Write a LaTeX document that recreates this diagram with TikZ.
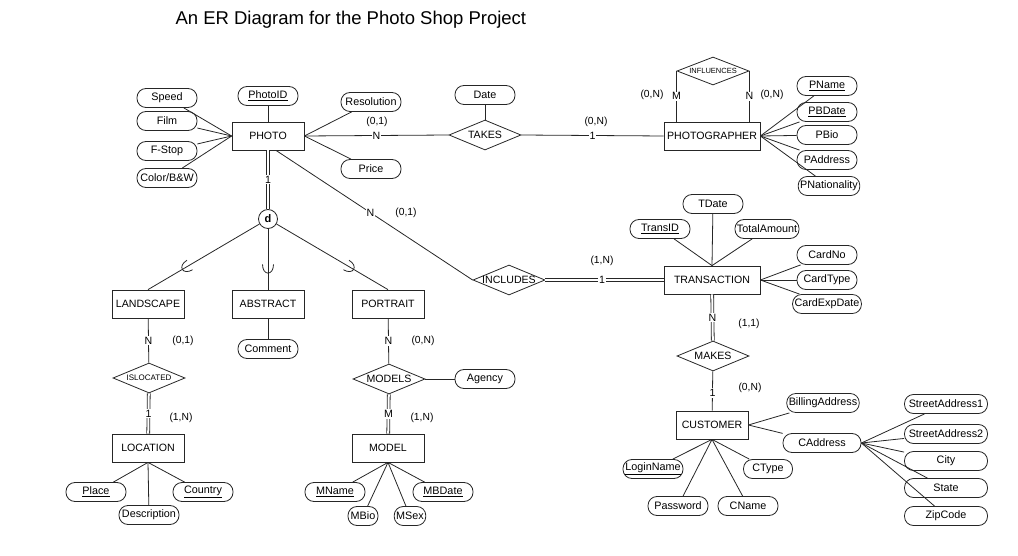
\documentclass[tikz,border=0pt]{standalone}
\usepackage{fontspec}
\setmainfont{Liberation Sans}
\usetikzlibrary{shapes.geometric, calc, decorations.markings}
\newcommand{\relname}[1]{\makebox[0pt]{#1}}

\begin{document}
\begin{tikzpicture}[
        x=1pt, y=-1pt,
        entity/.style={rectangle, draw=black!85, line width=0.8pt, minimum width=72, minimum height=28,
                       inner sep=3pt, font=\fontsize{10.6}{12}\selectfont},
        attr/.style={rectangle, rounded corners=9pt, draw=black!85, line width=0.8pt, minimum width=60,
                     minimum height=19, inner xsep=2pt, inner ysep=0pt, font=\fontsize{10.8}{12}\selectfont},
        reln/.style={diamond, draw=black!85, line width=0.8pt, minimum width=72, minimum height=30,
                     inner sep=0pt, font=\fontsize{10.6}{12}\selectfont},
        card/.style={inner sep=1pt, font=\fontsize{10.3}{12}\selectfont},
        lbl/.style={fill=white, inner sep=1pt, font=\fontsize{10.6}{12}\selectfont},
        conn/.style={draw=black!85, line width=0.8pt},
        total/.style={conn, double, double distance=2pt},
        subset/.style={conn, decoration={markings, mark=at position 0.66 with
                       {\draw[conn] (-4.5pt,5.5pt) .. controls (7pt,5.5pt) and (7pt,-5.5pt) .. (-4.5pt,-5.5pt);}},
                       postaction={decorate}}
    ]
        \useasboundingbox (0,0) rectangle (1018,556);

        \node[anchor=west, font=\fontsize{18.5}{22}\selectfont] (title) at (172,20) {An ER Diagram for the Photo Shop Project};

        \node[entity] (photo) at (268,136) {PHOTO};
        \node[entity, minimum width=96] (pg) at (712,136) {PHOTOGRAPHER};
        \node[entity, minimum width=96] (trans) at (712,280) {TRANSACTION};
        \node[entity] (land) at (148,304) {LANDSCAPE};
        \node[entity] (abst) at (268,304) {ABSTRACT};
        \node[entity] (portr) at (388,304) {PORTRAIT};
        \node[entity] (loc) at (148,448) {LOCATION};
        \node[entity] (model) at (388,448) {MODEL};
        \node[entity] (cust) at (712,425) {CUSTOMER};

        \node[reln] (takes) at (485,135) {\relname{TAKES}};
        \node[reln, minimum height=28, font=\fontsize{7.5}{9}\selectfont] (infl) at (713,71) {\relname{INFLUENCES}};
        \node[reln] (incl) at (509,280) {\relname{INCLUDES}};
        \node[reln, font=\fontsize{8}{9}\selectfont] (isloc) at (149,378) {\relname{ISLOCATED}};
        \node[reln] (models) at (389,379) {\relname{MODELS}};
        \node[reln] (makes) at (713,356) {\relname{MAKES}};

        \node[circle, draw=black!85, line width=0.8pt, minimum size=19, inner sep=0pt,
              font=\bfseries\fontsize{11}{12}\selectfont] (disj) at (268,219) {d};

        \node[attr] (speed) at (167,98) {Speed};
        \node[attr] (film) at (167,121) {Film};
        \node[attr] (fstop) at (167,151) {F-Stop};
        \node[attr] (color) at (167,178) {Color/B\&W};
        \node[attr] (photoid) at (268,96) {\underline{PhotoID}};
        \node[attr] (resol) at (371,102) {Resolution};
        \node[attr] (price) at (371,169) {Price};
        \node[attr] (date) at (485,95) {Date};
        \node[attr] (pname) at (827,86) {\underline{PName}};
        \node[attr] (pbdate) at (827,112) {\underline{PBDate}};
        \node[attr] (pbio) at (827,135) {PBio};
        \node[attr] (paddr) at (827,160) {PAddress};
        \node[attr] (pnat) at (829,186) {PNationality};
        \node[attr] (tdate) at (713,204) {TDate};
        \node[attr] (transid) at (660,229) {\underline{TransID}};
        \node[attr] (total) at (767,229) {TotalAmount};
        \node[attr] (cardno) at (827,255) {CardNo};
        \node[attr] (cardtype) at (827,280) {CardType};
        \node[attr] (cardexp) at (827,304) {CardExpDate};
        \node[attr] (comment) at (268,349) {Comment};
        \node[attr] (agency) at (485,379) {Agency};
        \node[attr] (place) at (96,492) {\underline{Place}};
        \node[attr] (country) at (203,492) {\underline{Country}};
        \node[attr] (descr) at (149,515) {Description};
        \node[attr] (mname) at (335,492) {\underline{MName}};
        \node[attr] (mbdate) at (443,492) {\underline{MBDate}};
        \node[attr, minimum width=30] (mbio) at (363,516) {MBio};
        \node[attr, minimum width=30] (msex) at (410,516) {MSex};
        \node[attr] (login) at (653,469) {\underline{LoginName}};
        \node[attr, minimum width=49] (ctype) at (768,469) {CType};
        \node[attr] (passw) at (678,506) {Password};
        \node[attr] (cname) at (748,506) {CName};
        \node[attr] (bill) at (823,403) {BillingAddress};
        \node[attr, minimum width=78] (caddr) at (822,443) {CAddress};
        \node[attr, minimum width=83] (sa1) at (946,404) {StreetAddress1};
        \node[attr, minimum width=83] (sa2) at (946,434) {StreetAddress2};
        \node[attr, minimum width=83] (city) at (946,461) {City};
        \node[attr, minimum width=83] (state) at (946,488) {State};
        \node[attr, minimum width=83] (zip) at (946,516) {ZipCode};

        \draw[conn] (photo.east) -- node[lbl] {N} (takes.west);
        \draw[conn] (takes.east) -- node[lbl] {1} (pg.west);
        \draw[conn] (date) -- (takes.north);
        \draw[conn] (infl.west) -- node[lbl] {M} (infl.west |- pg.north);
        \draw[conn] (infl.east) -- node[lbl] {N} (infl.east |- pg.north);
        \draw[conn] ($(photo.south)+(8,0)$) -- node[lbl, pos=0.48] {N} (incl.west);
        \draw[total] (photo.south) -- node[lbl] {1} (disj.north);
        \draw[subset] (disj) -- (land.north);
        \draw[subset] (disj) -- (abst.north);
        \draw[subset] (disj) -- (portr.north);
        \draw[conn] (land) -- node[lbl] {N} (isloc);
        \draw[total] (isloc) -- node[lbl] {1} (loc);
        \draw[conn] (portr) -- node[lbl] {N} (models);
        \draw[total] (models) -- node[lbl] {M} (model);
        \draw[conn] (models) -- (agency);
        \draw[total] (incl.east) -- node[lbl, pos=0.48] {1} (trans.west);
        \draw[total] (trans) -- node[lbl] {N} (makes);
        \draw[conn] (makes) -- node[lbl, pos=0.55] {1} (cust);

        \foreach \a in {speed, film, fstop, color} \draw[conn] (\a) -- (photo.west);
        \draw[conn] (photoid) -- (photo);
        \foreach \a in {resol, price} \draw[conn] (\a) -- (photo.east);
        \foreach \a in {pname, pbdate, pbio, paddr, pnat} \draw[conn] (\a) -- (pg.east);
        \foreach \a in {transid, tdate, total} \draw[conn] (\a) -- (trans.north);
        \foreach \a in {cardno, cardtype, cardexp} \draw[conn] (\a) -- (trans.east);
        \draw[conn] (comment) -- (abst);
        \foreach \a in {place, descr, country} \draw[conn] (\a) -- (loc.south);
        \foreach \a in {mname, mbio, msex, mbdate} \draw[conn] (\a) -- (model.south);
        \foreach \a in {login, passw, cname, ctype} \draw[conn] (\a) -- (cust.south);
        \foreach \a in {bill, caddr} \draw[conn] (\a) -- (cust.east);
        \foreach \a in {sa1, sa2, city, state, zip} \draw[conn] (\a) -- (caddr.east);

        \node[card] (ctakesphoto) at (377,122) {(0,1)};
        \node[card] (ctakespg) at (596,122) {(0,N)};
        \node[card] (cinflm) at (652,95) {(0,N)};
        \node[card] (cinfln) at (772,95) {(0,N)};
        \node[card] (cinclphoto) at (406,213) {(0,1)};
        \node[card] (cincltrans) at (602,261) {(1,N)};
        \node[card] (cisland) at (183,341) {(0,1)};
        \node[card] (cisloc) at (181,418) {(1,N)};
        \node[card] (cmodportr) at (423,341) {(0,N)};
        \node[card] (cmodmodel) at (422,418) {(1,N)};
        \node[card] (cmaketrans) at (749,324) {(1,1)};
        \node[card] (cmakecust) at (750,388) {(0,N)};
    \end{tikzpicture}
\end{document}
